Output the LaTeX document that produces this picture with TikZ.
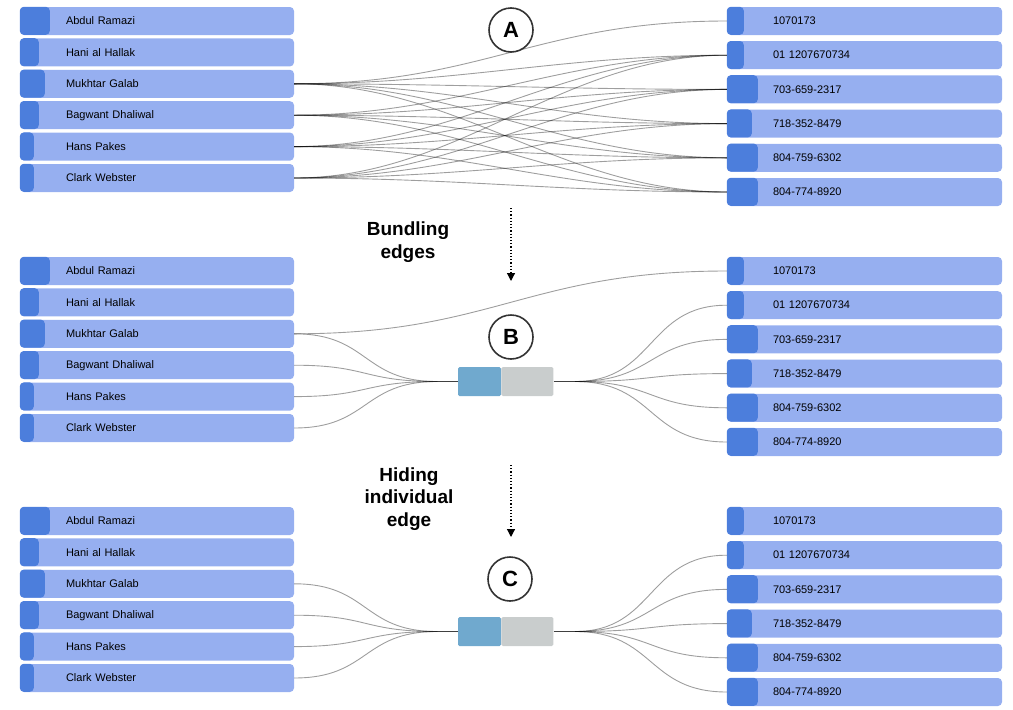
\documentclass[tikz,border=0pt]{standalone}
\usepackage{fontspec}
\setmainfont{Liberation Sans}
\usetikzlibrary{positioning, calc, arrows.meta}

\definecolor{barfill}{RGB}{150,175,240}
\definecolor{baraccent}{RGB}{76,126,220}
\definecolor{bundleblue}{RGB}{112,169,206}
\definecolor{bundlegray}{RGB}{201,205,205}

\begin{document}
\begin{tikzpicture}[
    x=1pt, y=-1pt,
    bar/.style={rectangle, rounded corners=4pt, fill=barfill, minimum height=28pt, inner ysep=0pt, inner xsep=46pt, text width=182pt, align=left, font=\fontsize{11}{13}\selectfont},
    accent/.style={fill=baraccent, rounded corners=4pt},
    edge/.style={draw=black, draw opacity=0.38, line width=0.9pt},
    stub/.style={draw=black!75, line width=1pt},
    bundleleft/.style={rectangle, rounded corners=1.5pt, fill=bundleblue, minimum width=43pt, minimum height=29pt, inner sep=0pt},
    bundleright/.style={rectangle, rounded corners=1.5pt, fill=bundlegray, minimum width=52pt, minimum height=29pt, inner sep=0pt},
    stage/.style={circle, draw=black!80, fill=white, line width=1.6pt, minimum size=44pt, inner sep=0pt, font=\fontsize{22}{22}\selectfont\bfseries},
    steplabel/.style={align=center, font=\fontsize{19}{22.5}\selectfont\bfseries},
    flow/.style={dotted, line width=1.2pt, -{Triangle[length=8pt, width=8pt]}}
]
\useasboundingbox (0,0) rectangle (1013,710);

% name and phone bars, three times
\foreach \p/\off in {a/0, b/250, c/500} {
  \foreach \name/\w [count=\i] in {Abdul Ramazi/30, Hani al Hallak/19, Mukhtar Galab/25, Bagwant Dhaliwal/19, Hans Pakes/14, Clark Webster/14} {
    \node[bar] (l\p\i) at (157, {\off+21+31.4*(\i-1)}) {\name};
    \fill[accent] (l\p\i.north west) rectangle ++(\w,28);
  }
  \foreach \name/\w [count=\i] in {1070173/17, 01 1207670734/17, 703-659-2317/31, 718-352-8479/25, 804-759-6302/31, 804-774-8920/31} {
    \node[bar, text width=183pt] (r\p\i) at (864.5, {\off+21+34.2*(\i-1)}) {\name};
    \fill[accent] (r\p\i.north west) rectangle ++(\w,28);
  }
}

% A: all edges
\foreach \s in {3,...,6} {
  \foreach \t in {2,...,6} {
    \draw[edge] (la\s.east) .. controls +(165,0) and +(-165,0) .. (ra\t.west);
  }
}
\draw[edge] (la3.east) .. controls +(190,0) and +(-190,0) .. (ra1.west);
\node[stage] (stagea) at (511,30) {A};

% B: bundled edges
\node[bundleleft] (bundleb1) at (479.5,381.5) {};
\node[bundleright, right=0pt of bundleb1] (bundleb2) {};
\coordinate (binb) at (437,381.5);
\coordinate (boutb) at (575,381.5);
\draw[stub] (binb) -- (bundleb1.west);
\draw[stub] (bundleb2.east) -- (boutb);
\foreach \s in {3,...,6} {
  \draw[edge] (lb\s.east) .. controls +(75,0) and +(-75,0) .. (binb);
}
\foreach \t in {2,...,6} {
  \draw[edge] (boutb) .. controls +(80,0) and +(-80,0) .. (rb\t.west);
}
\draw[edge] (lb3.east) .. controls +(200,0) and +(-200,0) .. (rb1.west);
\node[stage] (stageb) at (511,337) {B};

% C: single edge hidden
\node[bundleleft] (bundlec1) at (479.5,631.5) {};
\node[bundleright, right=0pt of bundlec1] (bundlec2) {};
\coordinate (binc) at (437,631.5);
\coordinate (boutc) at (575,631.5);
\draw[stub] (binc) -- (bundlec1.west);
\draw[stub] (bundlec2.east) -- (boutc);
\foreach \s in {3,...,6} {
  \draw[edge] (lc\s.east) .. controls +(75,0) and +(-75,0) .. (binc);
}
\foreach \t in {2,...,6} {
  \draw[edge] (boutc) .. controls +(80,0) and +(-80,0) .. (rc\t.west);
}
\node[stage] (stagec) at (510,579) {C};

% steps between the panels
\coordinate (downa) at (511,208);
\coordinate (downb) at (511,281);
\draw[flow] (downa) -- (downb);
\node[steplabel] (bundling) at (408,242) {Bundling\\edges};
\coordinate (downc) at (511,465);
\coordinate (downd) at (511,537);
\draw[flow] (downc) -- (downd);
\node[steplabel] (hiding) at (409,499) {Hiding\\individual\\edge};
\end{tikzpicture}
\end{document}
